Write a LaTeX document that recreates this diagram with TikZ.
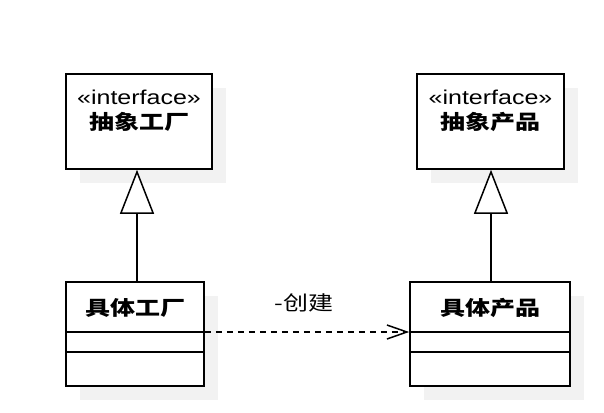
\documentclass[tikz,border=0pt]{standalone}
\usepackage{fontspec}
\setmainfont{Liberation Sans}[FakeStretch=1.25]
\newfontfamily\cjk{Noto Sans CJK SC}[FakeStretch=1.25]
\usetikzlibrary{arrows.meta,shadows}
\definecolor{shadowgray}{RGB}{242,242,242}
\begin{document}
\begin{tikzpicture}[x=1pt,y=-1pt,
  classbox/.style={draw, line width=1.6pt, fill=white, inner sep=0pt,
    general shadow={fill=shadowgray, shadow xshift=14pt, shadow yshift=-14pt}},
  txt/.style={inner sep=0pt, font=\fontsize{20}{24}\selectfont},
  cjktxt/.style={inner sep=0pt, font=\fontsize{20}{24}\selectfont\cjk},
  cjkbold/.style={inner sep=0pt, font=\fontsize{20}{24}\selectfont\cjk\bfseries},
  inherit/.style={line width=1.5pt, -{Triangle[length=44pt, width=34pt, fill=white]}},
  dep/.style={line width=1.5pt, dash pattern=on 6pt off 5pt, -{Straight Barb[length=20pt, width=14pt]}},
  sep/.style={line width=1.6pt}
]
\useasboundingbox (0,0) rectangle (604,412);

% boxes
\node[classbox, minimum width=146pt, minimum height=95pt] (af) at (139,121.5) {};
\node[classbox, minimum width=147pt, minimum height=95pt] (ap) at (490.5,121.5) {};
\node[classbox, minimum width=138pt, minimum height=104pt] (cf) at (135,334) {};
\node[classbox, minimum width=160pt, minimum height=104pt] (cp) at (490,334) {};

% texts
\node[txt] (afs) at (139,97) {«interface»};
\node[cjkbold] (afn) at (139,122) {抽象工厂};
\node[txt] (aps) at (490.5,97) {«interface»};
\node[cjkbold] (apn) at (490.5,122) {抽象产品};
\node[cjkbold] (cfn) at (135,307.5) {具体工厂};
\node[cjkbold] (cpn) at (490,307.5) {具体产品};
\node[cjktxt] (lbl) at (304,303) {-创建};

% separators
\draw[sep] (cf.west |- 0,332) -- (cf.east |- 0,332);
\draw[sep] (cf.west |- 0,352) -- (cf.east |- 0,352);
\draw[sep] (cp.west |- 0,332) -- (cp.east |- 0,332);
\draw[sep] (cp.west |- 0,352) -- (cp.east |- 0,352);

% connectors
\draw[inherit] (cf.north -| 137,0) -- (af.south -| 137,0);
\draw[inherit] (cp.north -| 491,0) -- (ap.south -| 491,0);
\draw[dep] (cf.east |- 0,332) -- (cp.west |- 0,332);
\end{tikzpicture}
\end{document}
